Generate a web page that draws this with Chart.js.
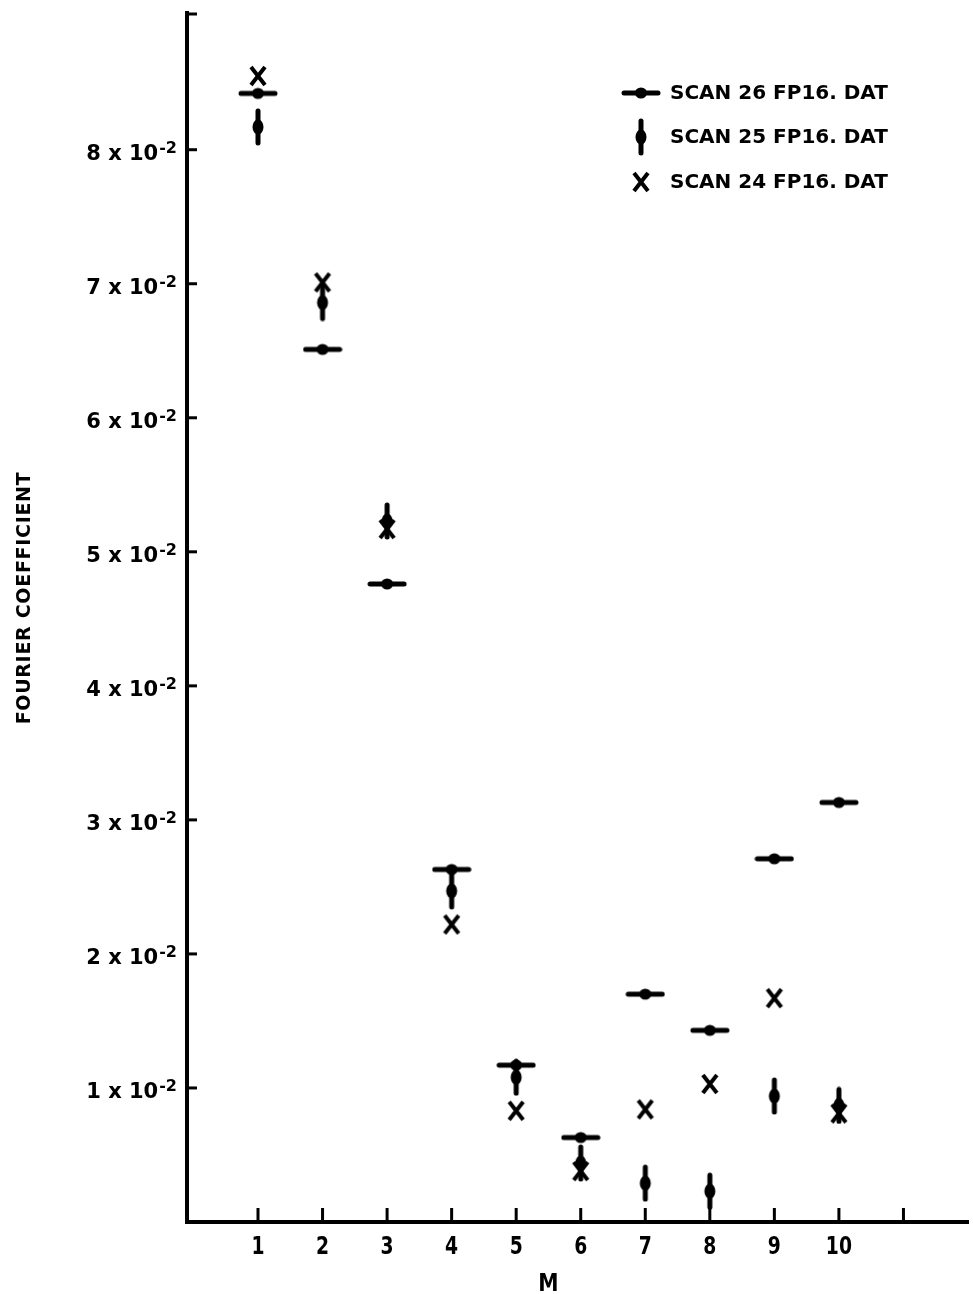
<!DOCTYPE html>
<html>
<head>
<meta charset="utf-8">
<script src="https://cdn.jsdelivr.net/npm/chart.js@4/dist/chart.umd.min.js"></script>
<style>
  html, body { margin: 0; background: #fff; }
  #wrap { width: 973px; height: 1294px; position: relative; }
</style>
</head>
<body>
<div id="wrap"><canvas id="myChart"></canvas></div>
<script>
// harmonic number M
let mValues = [1, 2, 3, 4, 5, 6, 7, 8, 9, 10];
// fourier coefficients
let scan26 = [0.0842, 0.0651, 0.0476, 0.0263, 0.0117, 0.0063, 0.0170, 0.0143, 0.0271, 0.0313];
let scan25 = [0.0817, 0.0686, 0.0523, 0.0247, 0.0108, 0.0044, 0.0029, 0.0023, 0.0094, 0.0087];
let scan24 = [0.0855, 0.0701, 0.0517, 0.0222, 0.0083, 0.0038, 0.0084, 0.0103, 0.0167, 0.0081];
let seriesLabels = ['SCAN 26 FP16. DAT', 'SCAN 25 FP16. DAT', 'SCAN 24 FP16. DAT'];

let xTickValues = [1, 2, 3, 4, 5, 6, 7, 8, 9, 10, 11];
let xTickLabels = ['1', '2', '3', '4', '5', '6', '7', '8', '9', '10', ''];
let yTickValues = [0.01, 0.02, 0.03, 0.04, 0.05, 0.06, 0.07, 0.08];
let yTickLabels = ['1', '2', '3', '4', '5', '6', '7', '8'];

const FONT = '"DejaVu Sans", "Liberation Sans", sans-serif';

// marker shapes, drawn once on small canvases and used as pointStyle
function hBarMarker() {
  let c = document.createElement('canvas');
  c.width = 40; c.height = 14;
  let g = c.getContext('2d');
  g.strokeStyle = g.fillStyle = '#000';
  g.lineWidth = 5; g.lineCap = 'round';
  g.beginPath(); g.moveTo(3, 7); g.lineTo(37, 7); g.stroke();
  g.beginPath(); g.ellipse(20, 7, 6, 5.5, 0, 0, Math.PI * 2); g.fill();
  return c;
}
function vBarMarker() {
  let c = document.createElement('canvas');
  c.width = 14; c.height = 38;
  let g = c.getContext('2d');
  g.strokeStyle = g.fillStyle = '#000';
  g.lineWidth = 5; g.lineCap = 'round';
  g.beginPath(); g.moveTo(7, 3); g.lineTo(7, 35); g.stroke();
  g.beginPath(); g.ellipse(7, 19, 5.5, 7.5, 0, 0, Math.PI * 2); g.fill();
  return c;
}
function xMarker() {
  let c = document.createElement('canvas');
  c.width = 20; c.height = 22;
  let g = c.getContext('2d');
  g.strokeStyle = '#000';
  g.lineWidth = 4;
  g.beginPath();
  g.moveTo(3, 2); g.lineTo(17, 20);
  g.moveTo(17, 2); g.lineTo(3, 20);
  g.stroke();
  return c;
}

let markers = [hBarMarker(), vBarMarker(), xMarker()];

function toPoints(values) {
  return mValues.map((m, i) => ({ x: m, y: values[i] }));
}

// text squeezed sideways, like the narrow lettering of the original
function narrowText(ctx, text, x, y, sx) {
  ctx.save();
  ctx.translate(x, y);
  ctx.scale(sx, 1);
  ctx.fillText(text, 0, 0);
  ctx.restore();
}

// axis decorations, labels and legend drawn like the old paper plot
const paperAxes = {
  id: 'paperAxes',
  afterDraw(chart) {
    const { ctx, chartArea, scales: { x, y } } = chart;
    ctx.save();
    ctx.strokeStyle = ctx.fillStyle = '#000';
    ctx.lineWidth = 3;
    ctx.lineCap = 'butt';

    // y ticks pointing inside + labels "n x 10-2"
    yTickValues.forEach((v, i) => {
      const py = y.getPixelForValue(v);
      ctx.beginPath();
      ctx.moveTo(chartArea.left, py);
      ctx.lineTo(chartArea.left + 10, py);
      ctx.stroke();

      ctx.font = 'bold 16px ' + FONT;
      const supW = ctx.measureText('-2').width;
      const right = 177;
      ctx.textAlign = 'left';
      ctx.textBaseline = 'alphabetic';
      ctx.fillText('-2', right - supW, py + 3);
      ctx.font = 'bold 21px ' + FONT;
      ctx.textAlign = 'right';
      ctx.fillText(yTickLabels[i] + ' x 10', right - supW - 1, py + 10);
    });

    // little serif at the top of the y axis
    ctx.beginPath();
    ctx.moveTo(chartArea.left, chartArea.top + 1);
    ctx.lineTo(chartArea.left + 10, chartArea.top + 1);
    ctx.stroke();

    // x ticks pointing up + labels
    ctx.font = 'bold 25px ' + FONT;
    ctx.textAlign = 'center';
    xTickValues.forEach((v, i) => {
      const px = x.getPixelForValue(v);
      ctx.beginPath();
      ctx.moveTo(px, chartArea.bottom);
      ctx.lineTo(px, chartArea.bottom - 14);
      ctx.stroke();
      narrowText(ctx, xTickLabels[i], px, chartArea.bottom + 32, 0.75);
    });

    // axis titles
    ctx.font = 'bold 24px ' + FONT;
    narrowText(ctx, 'M', x.getPixelForValue(5.5), chartArea.bottom + 69, 0.85);

    ctx.save();
    ctx.translate(25, 598);
    ctx.rotate(-Math.PI / 2);
    ctx.font = 'bold 19px ' + FONT;
    ctx.letterSpacing = '0.7px';
    ctx.textBaseline = 'middle';
    ctx.fillText('FOURIER COEFFICIENT', 0, 0);
    ctx.restore();

    // legend, top right
    const rows = [93, 137, 182];
    ctx.font = 'bold 20px ' + FONT;
    ctx.textAlign = 'left';
    ctx.textBaseline = 'middle';
    chart.data.datasets.forEach((ds, i) => {
      const img = ds.pointStyle;
      ctx.drawImage(img, 641 - img.width / 2, rows[i] - img.height / 2);
      ctx.fillText(ds.label, 670, rows[i] + 1);
    });
    ctx.restore();
  }
};

let fourierChart = new Chart(document.getElementById('myChart'), {
  type: 'scatter',
  data: {
    datasets: [
      { label: seriesLabels[0], data: toPoints(scan26), pointStyle: markers[0] },
      { label: seriesLabels[1], data: toPoints(scan25), pointStyle: markers[1] },
      { label: seriesLabels[2], data: toPoints(scan24), pointStyle: markers[2] }
    ]
  },
  options: {
    responsive: true,
    maintainAspectRatio: false,
    animation: false,
    events: [],
    layout: { padding: { top: 13, right: 0, bottom: 0, left: 0 } },
    plugins: {
      legend: { display: false },
      tooltip: { enabled: false }
    },
    scales: {
      x: {
        type: 'linear',
        min: -0.1,
        max: 12,
        grid: { display: false },
        border: { display: true, color: '#000', width: 4 },
        ticks: { display: false },
        afterFit: (scale) => { scale.height = 72; }
      },
      y: {
        min: 0,
        max: 0.0902,
        grid: { display: false },
        border: { display: true, color: '#000', width: 4 },
        ticks: { display: false },
        afterFit: (scale) => { scale.width = 187; }
      }
    }
  },
  plugins: [paperAxes]
});
</script>
</body>
</html>
